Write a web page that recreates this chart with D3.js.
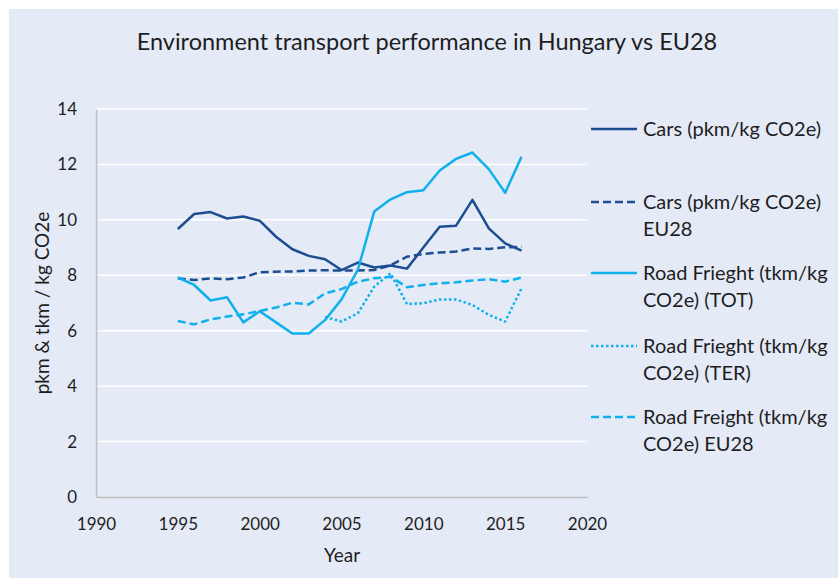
<!DOCTYPE html>
<html>
<head>
<meta charset="utf-8">
<script src="https://cdn.jsdelivr.net/npm/d3@7"></script>
<style>
  body { margin: 0; background: #fff; }
  text { font-family: Lato, "Open Sans", sans-serif; fill: #1e1e1e; }
</style>
</head>
<body>
<div id="graph"></div>
<script>
const years = d3.range(1995, 2017);
const xTicks = [1990, 1995, 2000, 2005, 2010, 2015, 2020];
const yTicks = [0, 2, 4, 6, 8, 10, 12, 14];

const cars = [9.67, 10.21, 10.28, 10.05, 10.12, 9.97, 9.39, 8.94, 8.70, 8.58, 8.19,
              8.46, 8.28, 8.35, 8.24, 9.0, 9.75, 9.79, 10.72, 9.69, 9.15, 8.89];
const carsEU = [7.89, 7.83, 7.89, 7.86, 7.92, 8.11, 8.13, 8.14, 8.17, 8.18, 8.17,
                8.17, 8.19, 8.36, 8.67, 8.77, 8.82, 8.86, 8.97, 8.95, 9.01, 9.02];
const roadTot = [7.92, 7.65, 7.09, 7.21, 6.30, 6.70, 6.30, 5.90, 5.90, 6.39, 7.13,
                 8.2, 10.30, 10.74, 11.0, 11.07, 11.78, 12.2, 12.43, 11.83, 10.98, 12.28];
const roadTer = [null, null, null, null, null, null, null, null, null, 6.5, 6.33,
                 6.63, 7.59, 8.07, 6.96, 6.99, 7.13, 7.13, 6.93, 6.57, 6.33, 7.53];
const roadEU = [6.35, 6.23, 6.41, 6.51, 6.59, 6.71, 6.84, 7.01, 6.95, 7.35, 7.50,
                7.77, 7.89, 7.95, 7.57, 7.65, 7.71, 7.75, 7.81, 7.86, 7.77, 7.92];

const seriesNames = [
  ["Cars (pkm/kg CO2e)"],
  ["Cars (pkm/kg CO2e)", "EU28"],
  ["Road Frieght (tkm/kg", "CO2e) (TOT)"],
  ["Road Frieght (tkm/kg", "CO2e) (TER)"],
  ["Road Freight (tkm/kg", "CO2e) EU28"]
];

const dark = "#1d4e91", light = "#0fb0ec";
const series = [
  {values: cars, color: dark, dash: null},
  {values: carsEU, color: dark, dash: "8,4"},
  {values: roadTot, color: light, dash: null},
  {values: roadTer, color: light, dash: "2.5,2.5"},
  {values: roadEU, color: light, dash: "8,4"}
];

const graph = document.getElementById('graph');
graph.innerHTML = '<svg width="838" height="578"></svg>';
const svg = d3.select('svg');

svg.append("rect")
  .attr("x", 9).attr("y", 9)
  .attr("width", 829).attr("height", 569)
  .attr("fill", "#e4eaf6");

const x = d3.scaleLinear().domain([1990, 2020]).range([96, 587]);
const y = d3.scaleLinear().domain([0, 14]).range([497, 109]);

// gridlines
svg.append("g")
  .selectAll("line")
  .data(yTicks.filter(d => d > 0))
  .enter().append("line")
  .attr("x1", x(1990)).attr("x2", x(2020))
  .attr("y1", d => y(d)).attr("y2", d => y(d))
  .attr("stroke", "#fff")
  .attr("stroke-width", 1.5);

const yAxis = svg.append("g")
  .attr("transform", "translate(" + x(1990) + ",0)")
  .call(d3.axisLeft(y).tickValues(yTicks).tickSize(0).tickPadding(19));
const xAxis = svg.append("g")
  .attr("transform", "translate(0," + y(0) + ")")
  .call(d3.axisBottom(x).tickValues(xTicks).tickFormat(d3.format("d")).tickSize(0).tickPadding(21));

[xAxis, yAxis].forEach(a => {
  a.select(".domain").attr("stroke", "#bfbfbf").attr("stroke-width", 1.5);
  a.selectAll("text").style("font-size", "17px").style("font-family", "Lato").attr("fill", "#1e1e1e");
});

const line = d3.line()
  .defined(d => d[1] != null)
  .x(d => x(d[0]))
  .y(d => y(d[1]));

series.forEach(s => {
  svg.append("path")
    .datum(years.map((yr, i) => [yr, s.values[i]]))
    .attr("fill", "none")
    .attr("stroke", s.color)
    .attr("stroke-width", 2.5)
    .attr("stroke-dasharray", s.dash)
    .attr("stroke-linejoin", "round")
    .attr("d", line);
});

// title and axis titles
svg.append("text")
  .attr("x", 427).attr("y", 50)
  .attr("text-anchor", "middle")
  .style("font-size", "23.5px")
  .text("Environment transport performance in Hungary vs EU28");

svg.append("text")
  .attr("x", 342).attr("y", 562)
  .attr("text-anchor", "middle")
  .style("font-size", "19px")
  .text("Year");

svg.append("text")
  .attr("transform", "translate(49,303) rotate(-90)")
  .attr("text-anchor", "middle")
  .style("font-size", "19px")
  .text("pkm & tkm / kg CO2e");

// legend
const legendY = [129, 202, 273, 346, 417];
const legend = svg.append("g");
series.forEach((s, i) => {
  legend.append("line")
    .attr("x1", 591).attr("x2", 637)
    .attr("y1", legendY[i]).attr("y2", legendY[i])
    .attr("stroke", s.color)
    .attr("stroke-width", 2.5)
    .attr("stroke-dasharray", s.dash);
  const t = legend.append("text")
    .attr("x", 643).attr("y", legendY[i])
    .style("font-size", "20px");
  seriesNames[i].forEach((n, j) => {
    t.append("tspan")
      .attr("x", 643)
      .attr("dy", j === 0 ? "0.35em" : 27)
      .text(n);
  });
});
</script>
</body>
</html>
